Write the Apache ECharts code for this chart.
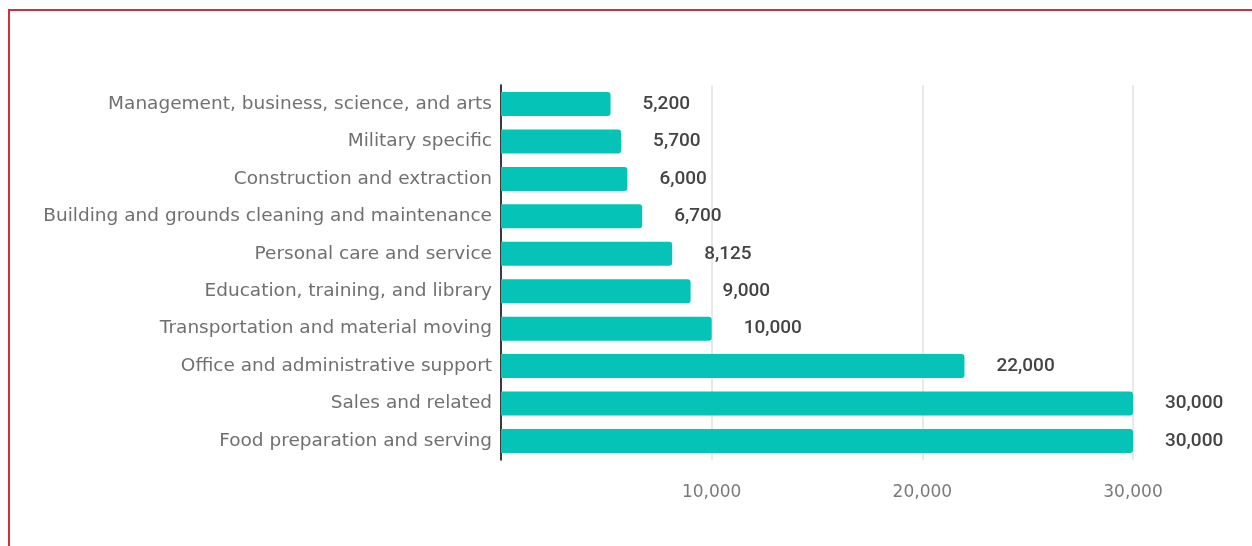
<!DOCTYPE html>
<html>
<head>
<meta charset="utf-8">
<script src="https://cdn.jsdelivr.net/npm/echarts@6/dist/echarts.min.js"></script>
<style>
  html, body { margin: 0; padding: 0; background: #ffffff; }
  #wrap { position: relative; width: 1252px; height: 546px; overflow: hidden; }
  #frame { position: absolute; left: 8px; top: 9px; right: -10px; bottom: -10px;
           border-left: 2px solid #d22f3d; border-top: 2px solid #d22f3d; }
  #chart { position: absolute; left: 0; top: 0; width: 1252px; height: 546px; }
</style>
</head>
<body>
<div id="wrap">
  <div id="frame"></div>
  <div id="chart"></div>
</div>
<script>
const categories = [
  'Management, business, science, and arts',
  'Military specific',
  'Construction and extraction',
  'Building and grounds cleaning and maintenance',
  'Personal care and service',
  'Education, training, and library',
  'Transportation and material moving',
  'Office and administrative support',
  'Sales and related',
  'Food preparation and serving'
];
const values = [5200, 5700, 6000, 6700, 8125, 9000, 10000, 22000, 30000, 30000];
const xTicks = [0, 10000, 20000, 30000];

const chart = echarts.init(document.getElementById('chart'), null, { renderer: 'canvas' });
chart.setOption({
  animation: false,
  backgroundColor: 'transparent',
  grid: { left: 501, right: 119, top: 85.3, bottom: 86.3, containLabel: false },
  xAxis: {
    type: 'value',
    min: xTicks[0],
    max: xTicks[xTicks.length - 1],
    interval: xTicks[1] - xTicks[0],
    axisLine: { show: false },
    axisTick: { show: false },
    splitLine: { show: true, lineStyle: { color: '#e2e2e2', width: 1.5 } },
    axisLabel: {
      showMinLabel: false,
      margin: 24,
      color: '#7a7a7a',
      fontFamily: 'DejaVu Sans',
      fontSize: 17,
      formatter: v => v.toLocaleString('en-US')
    }
  },
  yAxis: {
    type: 'category',
    inverse: true,
    data: categories,
    axisLine: { show: true, lineStyle: { color: '#3a3a3a', width: 2 } },
    axisTick: { show: false },
    axisLabel: {
      margin: 9,
      color: '#707070',
      fontFamily: 'DejaVu Sans',
      fontSize: 18.5
    }
  },
  series: [{
    type: 'bar',
    data: values,
    barWidth: 24,
    itemStyle: { color: '#05c3b6', borderRadius: [0, 3, 3, 0] },
    label: {
      show: true,
      position: 'right',
      distance: 32,
      color: '#444444',
      fontFamily: 'Roboto',
      fontWeight: 500,
      fontSize: 19,
      formatter: p => p.value.toLocaleString('en-US')
    }
  }]
});
</script>
</body>
</html>
